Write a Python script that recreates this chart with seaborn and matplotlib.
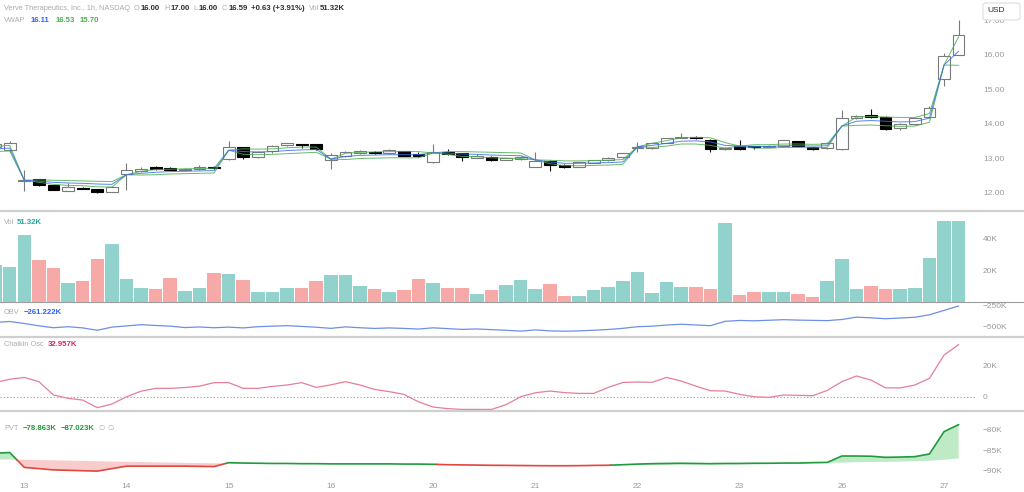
import numpy as np
import pandas as pd
import matplotlib
matplotlib.use("Agg")
import matplotlib.pyplot as plt
import seaborn as sns
from matplotlib.patches import FancyBboxPatch
from matplotlib.lines import Line2D

# ---------------- data (hourly bars, 12th .. 27th) ----------------
day_labels = ["13", "14", "15", "16", "20", "21", "22", "23", "26", "27"]
day_first_bar = [2, 9, 16, 23, 30, 37, 44, 51, 58, 65]

opens = [13.33, 13.25, 12.34, 12.41, 12.23, 12.07, 12.15, 12.12, 12.04, 12.55,
         12.64, 12.74, 12.73, 12.68, 12.69, 12.76, 12.98, 13.32, 13.05, 13.22,
         13.38, 13.41, 13.41, 12.97, 13.08, 13.15, 13.20, 13.15, 13.22, 13.12,
         12.89, 13.18, 13.15, 13.02, 13.05, 12.96, 12.98, 12.76, 12.94, 12.81,
         12.76, 12.88, 12.95, 13.03, 13.30, 13.30, 13.46, 13.60, 13.63, 13.55,
         13.28, 13.37, 13.35, 13.34, 13.36, 13.50, 13.32, 13.30, 13.27, 14.17,
         14.25, 14.21, 13.87, 14.00, 14.19, 15.30, 16.00]
highs = [13.48, 13.50, 12.67, 12.42, 12.24, 12.30, 12.17, 12.13, 12.20, 12.87,
         12.74, 12.78, 12.76, 12.73, 12.80, 12.78, 13.52, 13.33, 13.22, 13.40,
         13.46, 13.43, 13.42, 13.15, 13.22, 13.24, 13.22, 13.27, 13.23, 13.18,
         13.41, 13.27, 13.16, 13.12, 13.06, 13.02, 13.06, 13.18, 12.95, 12.83,
         12.90, 12.97, 13.04, 13.17, 13.48, 13.46, 13.60, 13.75, 13.65, 13.56,
         13.33, 13.55, 13.37, 13.39, 13.55, 13.52, 13.34, 13.47, 14.40, 14.26,
         14.43, 14.23, 14.02, 14.19, 14.52, 16.05, 17.00]
lows = [13.28, 13.20, 12.05, 12.20, 12.08, 12.06, 12.11, 12.01, 12.02, 12.09,
        12.60, 12.66, 12.66, 12.65, 12.67, 12.70, 12.95, 12.98, 13.02, 13.15,
        13.36, 13.30, 13.25, 12.70, 13.05, 13.12, 13.13, 13.13, 13.06, 13.05,
        12.88, 13.10, 12.93, 13.00, 12.94, 12.95, 12.96, 12.74, 12.64, 12.72,
        12.74, 12.86, 12.93, 13.01, 13.20, 13.28, 13.44, 13.58, 13.56, 13.20,
        13.25, 13.25, 13.27, 13.32, 13.34, 13.33, 13.26, 13.28, 13.25, 14.15,
        14.18, 13.84, 13.82, 13.98, 14.17, 15.10, 16.00]
closes = [13.42, 13.45, 12.38, 12.23, 12.09, 12.18, 12.13, 12.03, 12.18, 12.67,
          12.70, 12.70, 12.68, 12.70, 12.76, 12.72, 13.32, 13.05, 13.20, 13.37,
          13.44, 13.39, 13.27, 13.10, 13.20, 13.22, 13.15, 13.25, 13.08, 13.07,
          13.18, 13.12, 13.05, 13.07, 12.96, 13.00, 13.05, 12.94, 12.81, 12.74,
          12.89, 12.95, 13.02, 13.15, 13.33, 13.45, 13.58, 13.62, 13.58, 13.27,
          13.30, 13.27, 13.33, 13.37, 13.53, 13.35, 13.27, 13.45, 14.16, 14.24,
          14.21, 13.85, 13.99, 14.17, 14.45, 15.97, 16.59]

vwap = [13.28, 13.30, 12.37, 12.34, 12.31, 12.29, 12.28, 12.26, 12.25, 12.53,
        12.57, 12.60, 12.62, 12.63, 12.64, 12.65, 13.24, 13.20, 13.19, 13.20,
        13.23, 13.25, 13.26, 12.98, 13.06, 13.09, 13.10, 13.11, 13.11, 13.11,
        13.16, 13.16, 13.13, 13.12, 13.10, 13.09, 13.08, 12.96, 12.90, 12.86,
        12.86, 12.87, 12.88, 12.90, 13.34, 13.38, 13.44, 13.50, 13.51, 13.48,
        13.38, 13.36, 13.35, 13.35, 13.37, 13.37, 13.36, 13.37, 13.94, 14.08,
        14.10, 14.08, 14.06, 14.07, 14.17, 15.71, 16.11]
vwap_upper = [13.35, 13.38, 12.37, 12.38, 12.37, 12.36, 12.35, 12.34, 12.33, 12.53,
              12.63, 12.68, 12.69, 12.70, 12.71, 12.72, 13.24, 13.28, 13.27, 13.28,
              13.31, 13.33, 13.33, 12.98, 13.15, 13.18, 13.19, 13.20, 13.20, 13.20,
              13.16, 13.20, 13.20, 13.19, 13.18, 13.17, 13.16, 12.96, 12.95, 12.93,
              12.93, 12.94, 12.95, 12.97, 13.34, 13.44, 13.52, 13.60, 13.61, 13.60,
              13.46, 13.36, 13.40, 13.40, 13.42, 13.42, 13.41, 13.42, 13.94, 14.20,
              14.22, 14.20, 14.19, 14.19, 14.30, 15.71, 16.53]
vwap_lower = [13.20, 13.22, 12.37, 12.31, 12.25, 12.22, 12.21, 12.18, 12.17, 12.53,
              12.52, 12.53, 12.55, 12.56, 12.57, 12.58, 13.24, 13.12, 13.11, 13.12,
              13.14, 13.16, 13.18, 12.98, 12.97, 13.00, 13.01, 13.02, 13.02, 13.02,
              13.16, 13.12, 13.06, 13.05, 13.02, 13.01, 13.00, 12.96, 12.85, 12.79,
              12.79, 12.80, 12.81, 12.83, 13.34, 13.32, 13.36, 13.42, 13.42, 13.38,
              13.30, 13.36, 13.30, 13.30, 13.32, 13.32, 13.31, 13.32, 13.94, 13.96,
              13.97, 13.95, 13.93, 13.94, 14.05, 15.71, 15.70]

volume_k = [23.5, 22.0, 42.7, 26.8, 21.6, 12.1, 13.6, 27.4, 36.4, 14.4,
            9.0, 8.2, 15.5, 7.1, 8.6, 18.6, 17.6, 14.0, 6.5, 6.3,
            9.0, 9.0, 13.0, 16.8, 17.0, 10.0, 8.2, 6.1, 7.5, 14.7,
            11.9, 9.0, 8.8, 5.0, 7.7, 10.5, 14.2, 8.2, 11.5, 4.0,
            4.0, 7.3, 9.4, 13.4, 19.1, 5.7, 12.6, 9.2, 9.6, 8.0,
            50.3, 4.2, 6.5, 6.5, 6.5, 5.0, 2.9, 13.4, 27.0, 8.0,
            10.0, 8.2, 8.2, 9.0, 27.9, 51.0, 51.32]

obv_k = [-450, -440, -463, -490, -512, -500, -514, -541, -505, -491,
         -477, -486, -494, -510, -503, -512, -505, -514, -500, -494,
         -488, -497, -506, -519, -502, -512, -520, -514, -520, -527,
         -513, -522, -531, -526, -534, -541, -551, -537, -548, -552,
         -548, -541, -532, -519, -500, -494, -481, -472, -480, -488,
         -438, -428, -432, -426, -419, -424, -427, -430, -417, -390,
         -398, -408, -400, -391, -363, -312, -261.222]

chaikin_k = [9.0, 11.0, 12.2, 9.5, 1.1, -1.0, -2.1, -6.9, -4.6, 0.0,
             3.5, 5.3, 5.3, 5.8, 6.7, 8.9, 8.9, 5.3, 5.3, 6.5,
             7.4, 8.9, 5.9, 7.5, 9.5, 7.4, 4.6, 3.2, 1.5, -3.2,
             -6.5, -7.5, -8.0, -8.0, -8.0, -5.0, 0.0, 2.5, 3.6, 2.6,
             2.1, 2.1, 5.9, 9.0, 9.3, 9.1, 12.2, 9.9, 6.7, 3.8,
             3.6, 1.5, 0.0, -0.4, 1.1, 0.9, 0.65, 4.0, 9.5, 13.1,
             10.5, 5.6, 5.6, 7.4, 11.6, 26.3, 32.957]

pvt_k = [-85.8, -85.6, -89.2, -89.5, -89.8, -89.9, -90.0, -90.1, -89.5, -88.9,
         -88.9, -88.9, -88.9, -88.9, -88.95, -89.0, -88.06, -88.15, -88.2, -88.25,
         -88.25, -88.3, -88.3, -88.35, -88.35, -88.35, -88.35, -88.35, -88.4, -88.4,
         -88.45, -88.55, -88.6, -88.65, -88.7, -88.72, -88.75, -88.78, -88.8, -88.8,
         -88.78, -88.72, -88.68, -88.55, -88.4, -88.3, -88.25, -88.2, -88.25, -88.3,
         -88.25, -88.25, -88.2, -88.2, -88.15, -88.15, -88.05, -88.0, -86.45, -86.45,
         -86.5, -86.77, -86.7, -86.6, -85.96, -80.56, -78.863]
pvt_signal_k = [-87.3, -87.3, -87.35, -87.42, -87.49, -87.56, -87.63, -87.7, -87.77, -87.84,
                -87.91, -87.98, -88.05, -88.1, -88.15, -88.2, -88.25, -88.27, -88.3, -88.32,
                -88.34, -88.36, -88.38, -88.4, -88.41, -88.42, -88.43, -88.44, -88.45, -88.46,
                -88.47, -88.49, -88.51, -88.53, -88.56, -88.58, -88.6, -88.62, -88.64, -88.65,
                -88.66, -88.66, -88.66, -88.65, -88.63, -88.6, -88.57, -88.54, -88.52, -88.5,
                -88.48, -88.46, -88.44, -88.38, -88.33, -88.27, -88.2, -88.12, -88.05, -87.95,
                -87.9, -87.85, -87.8, -87.7, -87.6, -87.35, -87.023]

price_ticks = [12, 13, 14, 15, 16, 17]
vol_ticks = [20, 40]
obv_ticks = [-250, -500]
chaikin_ticks = [0, 20]
pvt_ticks = [-80, -85, -90]

# ---------------- style ----------------
sns.set_theme(style="white")
plt.rcParams["font.family"] = ["Liberation Sans", "DejaVu Sans"]

W, H = 1024, 492
AX_W = 975 / W
GRAY = "#9a9a9a"
LGRAY = "#ababab"
DARK = "#2f2f2f"
UP_VOL, DN_VOL = "#92d2cc", "#f7a9a7"
BLUE, GREEN = "#2962ff", "#4caf50"
FS = 6

fig = plt.figure(figsize=(W / 100, H / 100), dpi=100)
fig.patch.set_facecolor("white")


def pane(top, bottom):
    ax = fig.add_axes([0, 1 - bottom / H, AX_W, (bottom - top) / H])
    ax.set_facecolor("white")
    for s in ax.spines.values():
        s.set_visible(False)
    ax.yaxis.tick_right()
    ax.tick_params(axis="y", length=0, pad=5.8, labelsize=FS, labelcolor=GRAY)
    ax.tick_params(axis="x", length=0, labelbottom=False)
    return ax


x = np.arange(len(closes))
o, h, l, c = map(np.asarray, (opens, highs, lows, closes))
up = c >= o
XLIM = (0.336, 67.12)

# ---------------- price pane ----------------
ax = pane(0, 210)
ax.vlines(x, l, h, colors=np.where(up, "#7a7a7a", "#111111"), linewidth=0.8, zorder=2)
ax.bar(x, np.maximum(np.abs(c - o), 0.014), bottom=np.minimum(o, c), width=0.8,
       color=np.where(up, "white", "black"), edgecolor=np.where(up, "#7a7a7a", "black"),
       linewidth=0.8, zorder=3)
sns.lineplot(x=x, y=vwap_upper, ax=ax, color=GREEN, linewidth=0.7, alpha=0.85, zorder=4)
sns.lineplot(x=x, y=vwap_lower, ax=ax, color=GREEN, linewidth=0.7, alpha=0.85, zorder=4)
sns.lineplot(x=x, y=vwap, ax=ax, color="#3d6ef0", linewidth=0.7, alpha=0.85, zorder=5)
ax.set_ylim(11.507, 17.594)
ax.set_yticks(price_ticks)
ax.set_yticklabels([f"{v:.2f}" for v in price_ticks])
ax.set_xlim(*XLIM)
ax.set_xlabel("")
ax.set_ylabel("")

# ---------------- volume pane ----------------
axv = pane(211, 302)
vdf = pd.DataFrame({"bar": x, "vol": volume_k, "dir": np.where(up, "up", "down")})
sns.barplot(data=vdf, x="bar", y="vol", hue="dir", palette={"up": UP_VOL, "down": DN_VOL},
            native_scale=True, width=0.93, dodge=False, legend=False, saturation=1,
            linewidth=0, errorbar=None, ax=axv)
axv.set_ylim(0, 57.6)
axv.set_yticks(vol_ticks)
axv.set_yticklabels([f"{v}K" for v in vol_ticks])
axv.set_xlim(*XLIM)
axv.set_xlabel("")
axv.set_ylabel("")
axv.tick_params(axis="x", length=0, labelbottom=False)

# ---------------- OBV pane ----------------
axo = pane(302, 337)
sns.lineplot(x=x, y=obv_k, ax=axo, color="#6f8fe6", linewidth=0.9)
axo.set_ylim(-618.7, -215.4)
axo.set_yticks(obv_ticks)
axo.set_yticklabels([f"\u2212{abs(v)}K" for v in obv_ticks])
axo.set_xlim(*XLIM)
axo.set_xlabel("")
axo.set_ylabel("")

# ---------------- Chaikin pane ----------------
axc = pane(337, 411)
axc.axhline(0, color="#a0a0a0", linestyle=(0, (1, 2)), linewidth=0.8)
sns.lineplot(x=x, y=chaikin_k, ax=axc, color="#e57f97", linewidth=0.9)
axc.set_ylim(-9.0, 37.7)
axc.set_yticks(chaikin_ticks)
axc.set_yticklabels(["0", "20K"])
axc.set_xlim(*XLIM)
axc.set_xlabel("")
axc.set_ylabel("")

# ---------------- PVT pane ----------------
axp = pane(411, 478)
pv = np.asarray(pvt_k)
sg = np.asarray(pvt_signal_k)
axp.fill_between(x, pv, sg, where=pv >= sg, interpolate=True, color="#bfeac6", linewidth=0)
axp.fill_between(x, pv, sg, where=pv < sg, interpolate=True, color="#f9cccc", linewidth=0)

xs, ys, st = [], [], []
for i in range(len(x)):
    if i > 0:
        d0, d1 = pv[i - 1] - sg[i - 1], pv[i] - sg[i]
        if d0 * d1 < 0:
            t = d0 / (d0 - d1)
            xc = x[i - 1] + t
            yc = pv[i - 1] + t * (pv[i] - pv[i - 1])
            xs += [xc, xc]
            ys += [yc, yc]
            st += [d0 >= 0, d1 >= 0]
    xs.append(x[i])
    ys.append(pv[i])
    st.append(pv[i] >= sg[i])
xs, ys, st = np.array(xs), np.array(ys), np.array(st)
axp.plot(xs, np.where(st, ys, np.nan), color="#1e9c3c", linewidth=1.2)
axp.plot(xs, np.where(~st, ys, np.nan), color="#e2463f", linewidth=1.2)
axp.set_ylim(-91.76, -75.58)
axp.set_yticks(pvt_ticks)
axp.set_yticklabels([f"\u2212{abs(v)}K" for v in pvt_ticks])
axp.set_xlim(*XLIM)
axp.set_xticks(day_first_bar)
axp.set_xticklabels(day_labels)
axp.tick_params(axis="x", length=0, pad=3.6, labelsize=FS, labelcolor=GRAY, labelbottom=True)
axp.set_xlabel("")
axp.set_ylabel("")

# ---------------- separators ----------------
for yy, col, lw in [(211, "#cfcfcf", 1.6), (302, "#9c9c9c", 0.8), (337, "#cfcfcf", 1.6), (411, "#cfcfcf", 1.6)]:
    fig.add_artist(Line2D([0, 1], [1 - yy / H] * 2, transform=fig.transFigure, color=col, linewidth=lw, zorder=8))

# ---------------- USD box ----------------
fig.add_artist(FancyBboxPatch((983 / W, 1 - 20 / H), 37 / W, 17 / H,
                              boxstyle="round,pad=0,rounding_size=0.004",
                              transform=fig.transFigure, facecolor="white",
                              edgecolor="#dddddd", linewidth=0.8, zorder=10))
fig.text(987 / W, 1 - 11 / H, "USD", fontsize=FS, color=DARK, va="center", ha="left", zorder=11)

# ---------------- legend texts ----------------
renderer = fig.canvas.get_renderer()


def chain(x_px, y_px, parts):
    xp = x_px
    for s, col, wt, gap, size in parts:
        t = fig.text(xp / W, 1 - y_px / H, s, color=col, fontsize=size, fontweight=wt,
                     va="center", ha="left", zorder=12)
        xp += t.get_window_extent(renderer).width + gap


S1, S2 = 5.3, 5.6
chain(4, 8.5, [("Verve Therapeutics, Inc., 1h, NASDAQ", LGRAY, "normal", 4, S1),
               ("O", LGRAY, "normal", 1, S1), ("16.00", DARK, "bold", 4, S2),
               ("H", LGRAY, "normal", 1, S1), ("17.00", DARK, "bold", 4, S2),
               ("L", LGRAY, "normal", 1, S1), ("16.00", DARK, "bold", 4, S2),
               ("C", LGRAY, "normal", 1, S1), ("16.59", DARK, "bold", 4, S2),
               ("+0.63 (+3.91%)", DARK, "bold", 4, S2),
               ("Vol", LGRAY, "normal", 1, S1), ("51.32K", DARK, "bold", 0, S2)])
chain(4, 20, [("VWAP", LGRAY, "normal", 5, S1), ("16.11", BLUE, "bold", 6, S2),
              ("16.53", GREEN, "bold", 5, S2), ("15.70", GREEN, "bold", 0, S2)])
chain(4, 222, [("Vol", LGRAY, "normal", 3, S1), ("51.32K", "#26a69a", "bold", 0, S2)])
chain(4, 312.5, [("OBV", LGRAY, "normal", 4, S1), ("\u2212261.222K", BLUE, "bold", 0, S2)])
chain(4, 345, [("Chaikin Osc", LGRAY, "normal", 4, S1), ("32.957K", "#e91e63", "bold", 0, S2)])
chain(4, 428.5, [("PVT", LGRAY, "normal", 4, S1), ("\u221278.863K", "#1e9c3c", "bold", 4, S2),
                 ("\u221287.023K", "#1e9c3c", "bold", 4, S2), ("\u2205", "#b0b0b0", "normal", 3, S1),
                 ("\u2205", "#b0b0b0", "normal", 0, S1)])

fig.savefig("out.png", dpi=100, facecolor="white")
